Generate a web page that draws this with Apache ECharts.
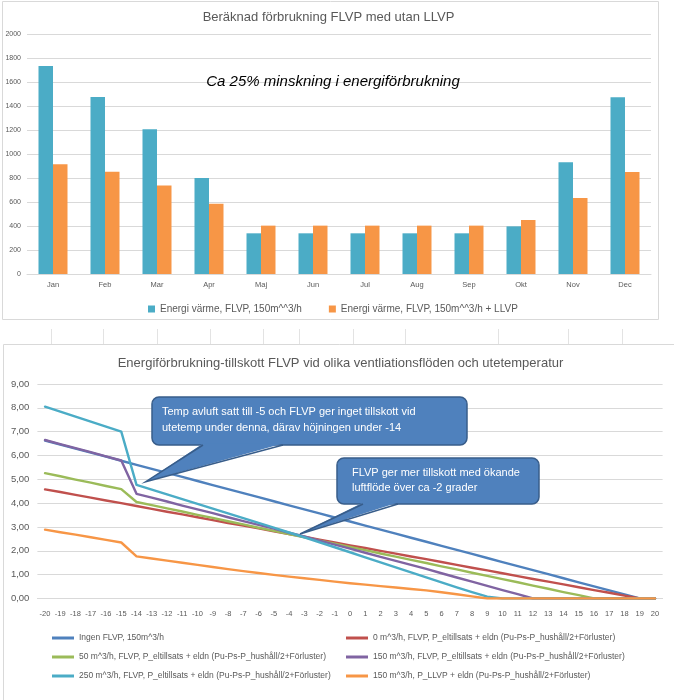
<!DOCTYPE html>
<html><head><meta charset="utf-8">
<script src="https://cdn.jsdelivr.net/npm/echarts@6/dist/echarts.min.js"></script>
<style>html,body{margin:0;padding:0;background:#fff;}#c{width:674px;height:700px;}</style>
</head><body><div id="c"></div>
<script>
// ---- Top chart data ----
const months = ['Jan','Feb','Mar','Apr','Maj','Jun','Jul','Aug','Sep','Okt','Nov','Dec'];
const flvp150 = [1733,1474,1206,800,339,339,339,339,339,397,932,1472];
const flvp150Llvp = [915,852,738,585,403,403,403,403,403,450,633,850];
const topSeriesNames = ['Energi värme, FLVP, 150m^^3/h','Energi värme, FLVP, 150m^^3/h + LLVP'];

// ---- Bottom chart data ----
const temps = ['-20','-19','-18','-17','-16','-15','-14','-13','-12','-11','-10','-9','-8','-7','-6','-5','-4','-3','-2','-1','0','1','2','3','4','5','6','7','8','9','10','11','12','13','14','15','16','17','18','19','20'];
const ingenFlvp = [6.63,6.46,6.29,6.12,5.95,5.78,5.61,5.44,5.27,5.10,4.93,4.76,4.59,4.42,4.25,4.08,3.91,3.74,3.57,3.40,3.23,3.06,2.89,2.72,2.55,2.38,2.21,2.04,1.87,1.70,1.53,1.36,1.19,1.02,0.85,0.68,0.51,0.34,0.17,0,0];
const flvp0 = [4.58,4.47,4.35,4.23,4.11,4.00,3.88,3.76,3.64,3.53,3.41,3.29,3.17,3.06,2.94,2.82,2.70,2.59,2.47,2.35,2.23,2.12,2.00,1.88,1.76,1.65,1.53,1.41,1.29,1.18,1.06,0.94,0.82,0.71,0.59,0.47,0.35,0.24,0.12,0,0];
const flvp50 = [5.26,5.13,4.99,4.86,4.72,4.59,4.05,3.92,3.78,3.65,3.51,3.38,3.24,3.11,2.97,2.84,2.70,2.57,2.43,2.30,2.16,2.03,1.89,1.76,1.62,1.49,1.35,1.22,1.08,0.95,0.81,0.68,0.54,0.41,0.27,0.14,0,0,0,0,0];
const flvp150b = [6.65,6.48,6.31,6.14,5.96,5.79,4.39,4.23,4.07,3.90,3.74,3.58,3.41,3.25,3.09,2.93,2.76,2.60,2.43,2.26,2.09,1.92,1.75,1.58,1.41,1.24,1.06,0.88,0.71,0.53,0.35,0.18,0,0,0,0,0,0,0,0,0];
const flvp250 = [8.05,7.84,7.63,7.42,7.21,7.00,4.77,4.57,4.37,4.17,3.97,3.77,3.57,3.37,3.17,2.97,2.77,2.57,2.36,2.15,1.94,1.73,1.52,1.31,1.10,0.89,0.68,0.47,0.27,0.08,0,0,0,0,0,0,0,0,0,0,0];
const llvp150 = [2.89,2.78,2.68,2.57,2.46,2.35,1.77,1.68,1.59,1.50,1.41,1.32,1.23,1.15,1.07,0.99,0.92,0.85,0.78,0.71,0.64,0.58,0.52,0.46,0.40,0.34,0.26,0.18,0.09,0,0,0,0,0,0,0,0,0,0,0,0];
const lineNames = [
  'Ingen FLVP, 150m^3/h',
  '0 m^3/h, FLVP, P_eltillsats + eldn (Pu-Ps-P_hushåll/2+Förluster)',
  '50 m^3/h, FLVP, P_eltillsats + eldn (Pu-Ps-P_hushåll/2+Förluster)',
  '150 m^3/h, FLVP, P_eltillsats + eldn (Pu-Ps-P_hushåll/2+Förluster)',
  '250 m^3/h, FLVP, P_eltillsats + eldn (Pu-Ps-P_hushåll/2+Förluster)',
  '150 m^3/h, P_LLVP + eldn (Pu-Ps-P_hushåll/2+Förluster)'
];
const lineData = [ingenFlvp, flvp0, flvp50, flvp150b, flvp250, llvp150];
const lineColors = ['#4F81BD','#C0504D','#9BBB59','#8064A2','#4BACC6','#F79646'];

const FONT = 'Liberation Sans';
const GREY = '#595959';
const GRID = '#D9D9D9';
const CALL_FILL = '#4F81BD';
const CALL_STROKE = '#385D8A';

const chart = echarts.init(document.getElementById('c'), null, {renderer:'canvas'});

const lineSeries = lineNames.map((n,i)=>({
  name:n, type:'line', xAxisIndex:1, yAxisIndex:1, data:lineData[i],
  symbol:'none', smooth:false, color:lineColors[i],
  lineStyle:{width:2.4, color:lineColors[i], join:'round', cap:'round'},
  emphasis:{disabled:true}, z:2+i
}));

const cellLinesX = [51,103,157,210,263,299,353,405,498,568,622];

function callout(box, base1, base2, tip){
  return [
    {type:'rect', z:50, silent:true, shape:{x:box[0], y:box[1], width:box[2], height:box[3], r:7},
     style:{fill:CALL_FILL, stroke:CALL_STROKE, lineWidth:1.5}},
    {type:'polygon', z:51, silent:true,
     shape:{points:[[base1,box[1]+box[3]-1.5],[tip[0],tip[1]],[base2,box[1]+box[3]-1.5]]},
     style:{fill:CALL_FILL}},
    {type:'polyline', z:52, silent:true,
     shape:{points:[[base1,box[1]+box[3]],[tip[0],tip[1]],[base2,box[1]+box[3]]]},
     style:{fill:null, stroke:CALL_STROKE, lineWidth:1.5, lineJoin:'miter'}}
  ];
}

const option = {
  animation:false,
  textStyle:{fontFamily:FONT},
  grid:[
    {left:27, top:34, width:624, height:240},
    {left:37.4, top:384, width:625.2, height:214.5}
  ],
  xAxis:[
    {type:'category', gridIndex:0, data:months,
     axisLine:{lineStyle:{color:GRID}}, axisTick:{show:false},
     axisLabel:{color:GREY, fontSize:7.5, margin:7}},
    {type:'category', gridIndex:1, data:temps, boundaryGap:true,
     axisLine:{lineStyle:{color:GRID}}, axisTick:{show:false},
     axisLabel:{color:GREY, fontSize:7.5, margin:11, interval:0}}
  ],
  yAxis:[
    {type:'value', gridIndex:0, min:0, max:2000, interval:200,
     axisLine:{show:false}, axisTick:{show:false},
     axisLabel:{color:GREY, fontSize:7, margin:6, formatter:v=>String(v)},
     splitLine:{lineStyle:{color:GRID}}},
    {type:'value', gridIndex:1, min:0, max:9, interval:1,
     axisLine:{show:false}, axisTick:{show:false},
     axisLabel:{color:GREY, fontSize:9.5, margin:8, formatter:v=>v.toFixed(2).replace('.',',')},
     splitLine:{lineStyle:{color:GRID}}}
  ],
  legend:[
    {data:topSeriesNames, left:143, top:299, itemWidth:7, itemHeight:7, itemGap:27, icon:'rect',
     textStyle:{color:GREY, fontSize:10, fontFamily:FONT}, selectedMode:false},
    {data:[lineNames[0],lineNames[2],lineNames[4]], orient:'vertical', left:47, top:627,
     itemWidth:22, itemHeight:3, itemGap:7, icon:'rect', selectedMode:false,
     textStyle:{color:GREY, fontSize:8.5, lineHeight:12, fontFamily:FONT}},
    {data:[lineNames[1],lineNames[3],lineNames[5]], orient:'vertical', left:341, top:627,
     itemWidth:22, itemHeight:3, itemGap:7, icon:'rect', selectedMode:false,
     textStyle:{color:GREY, fontSize:8.5, lineHeight:12, fontFamily:FONT}}
  ],
  series:[
    {name:topSeriesNames[0], type:'bar', xAxisIndex:0, yAxisIndex:0, data:flvp150,
     barWidth:14.5, barGap:'0%', itemStyle:{color:'#4BACC6'}, emphasis:{disabled:true}},
    {name:topSeriesNames[1], type:'bar', xAxisIndex:0, yAxisIndex:0, data:flvp150Llvp,
     barWidth:14.5, barGap:'0%', itemStyle:{color:'#F79646'}, emphasis:{disabled:true}},
    ...lineSeries
  ],
  graphic:[
    {type:'rect', shape:{x:2.5, y:1.5, width:656, height:318}, style:{fill:'none', stroke:GRID, lineWidth:1}, z:0, silent:true},
    {type:'text', x:328.5, y:17, style:{text:'Beräknad förbrukning FLVP med utan LLVP', align:'center', verticalAlign:'middle', fontSize:13, fontFamily:FONT, fill:GREY}, z:10},
    {type:'text', x:333, y:82, style:{text:'Ca 25% minskning i energiförbrukning', align:'center', verticalAlign:'middle', fontSize:15, fontStyle:'italic', fontFamily:FONT, fill:'#000'}, z:10},
    ...cellLinesX.map(x=>({type:'line', shape:{x1:x+0.5, y1:329, x2:x+0.5, y2:344}, style:{stroke:'#E3E3E3', lineWidth:1}, silent:true})),
    {type:'rect', shape:{x:3.5, y:344.5, width:680, height:360}, style:{fill:'none', stroke:GRID, lineWidth:1}, z:0, silent:true},
    {type:'text', x:340.5, y:363, style:{text:'Energiförbrukning-tillskott FLVP vid olika ventliationsflöden och utetemperatur', align:'center', verticalAlign:'middle', fontSize:13, fontFamily:FONT, fill:GREY}, z:10},
    ...callout([152,397,315,48], 203, 283, [145.7,481.7]),
    {type:'text', x:162, y:412, z:60, silent:true, style:{text:'Temp avluft satt till -5 och FLVP ger inget tillskott vid', verticalAlign:'middle', fontSize:11, fontFamily:FONT, fill:'#fff'}},
    {type:'text', x:162, y:428, z:60, silent:true, style:{text:'utetemp under denna, därav höjningen under -14', verticalAlign:'middle', fontSize:11, fontFamily:FONT, fill:'#fff'}},
    ...callout([337,458,202,46], 363, 398, [300,534]),
    {type:'text', x:352, y:473, z:60, silent:true, style:{text:'FLVP ger mer tillskott med ökande', verticalAlign:'middle', fontSize:11, fontFamily:FONT, fill:'#fff'}},
    {type:'text', x:352, y:488, z:60, silent:true, style:{text:'luftflöde över ca -2 grader', verticalAlign:'middle', fontSize:11, fontFamily:FONT, fill:'#fff'}}
  ]
};
chart.setOption(option);
</script></body></html>
